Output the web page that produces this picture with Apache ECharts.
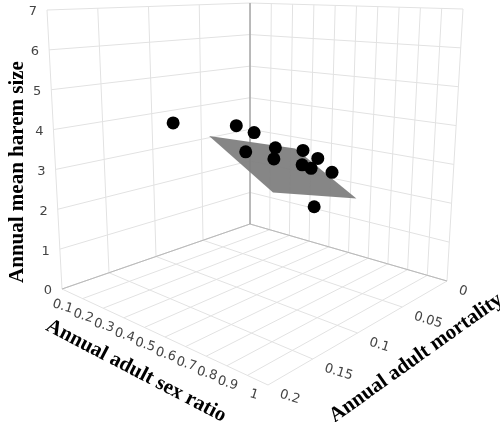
<!DOCTYPE html>
<html><head><meta charset="utf-8">
<script src="https://cdn.jsdelivr.net/npm/echarts@6/dist/echarts.min.js"></script>
<style>html,body{margin:0;padding:0;background:#fff}#c{width:500px;height:422px}</style>
</head><body><div id="c"></div>
<script>
// data: [sex ratio, mortality, harem size]
const sexRatio  = [0.50, 0.474, 0.499, 0.586, 0.555, 0.607, 0.551, 0.582, 0.618, 0.632, 0.643, 0.815];
const mortality = [0.187, 0.116, 0.103, 0.131, 0.093, 0.106, 0.063, 0.054, 0.0785, 0.072, 0.052, 0.109];
const haremSize = [4.78, 4.32, 4.10, 3.90, 3.72, 3.59, 3.44, 3.20, 3.26, 3.14, 2.89, 2.73];
// fitted plane: size = c + p*sexRatio + q*mortality
const planeCoef = {c: 4.38, p: -3.1, q: 9.7};
const planeSexRange = [0.5, 0.8];
const planeMortRange = [0.06, 0.15];
const srTicks = [0,0.1,0.2,0.3,0.4,0.5,0.6,0.7,0.8,0.9,1];
const srLabels = ['','0.1','0.2','0.3','0.4','0.5','0.6','0.7','0.8','0.9','1'];
const mortTicks = [0,0.05,0.1,0.15,0.2];
const mortLabels = ['0','0.05','0.1','0.15','0.2'];
const zTicks = [0,1,2,3,4,5,6,7];

// view: floor corners B(sr0,m0) R(sr1,m0) L(sr0,m.2) F(sr1,m.2), and top (z=7)
const FLOOR = {B:[250,224], R:[447,281], L:[62,289], F:[268,385]};
const TOP   = {B:[250,3],   R:[463,9],   L:[47,10],  F:[270,45]};
function bil(C,u,v){
  const k=i=>C.B[i]*(1-u)*(1-v)+C.R[i]*u*(1-v)+C.L[i]*(1-u)*v+C.F[i]*u*v;
  return [k(0),k(1)];
}
function proj(sr,m,z){
  const u=sr, v=m/0.2, w=z/7;
  const f=bil(FLOOR,u,v), t=bil(TOP,u,v);
  return [f[0]+(t[0]-f[0])*w, f[1]+(t[1]-f[1])*w];
}

const GL='#e2e2e2';
const lines=[];
mortTicks.forEach(m=>lines.push([0,m,0,0,m,7,GL]));
zTicks.forEach(z=>{lines.push([0,0,z,0,0.2,z,GL]); lines.push([0,0,z,1,0,z,GL]);});
srTicks.forEach(s=>lines.push([s,0,0,s,0,7,GL]));
srTicks.forEach(s=>lines.push([s,0,0,s,0.2,0,GL]));
mortTicks.forEach(m=>lines.push([0,m,0,1,m,0,GL]));
lines.push([0,0,0,0,0.2,0,'#b8b8b8']);
lines.push([0,0,0,1,0,0,'#b8b8b8']);
lines.push([0,0,0,0,0,7,'#8a8a8a']);

const labels=[];
zTicks.forEach(z=>labels.push([0,0.2,z,String(z),'z']));
srTicks.forEach((s,i)=>labels.push([s,0.2,0,srLabels[i],'s']));
mortTicks.forEach((m,i)=>labels.push([1,m,0,mortLabels[i],'m']));

const pts=sexRatio.map((s,i)=>[s,mortality[i],haremSize[i]]);
const pz=(s,m)=>planeCoef.c+planeCoef.p*s+planeCoef.q*m;
const [s0,s1]=planeSexRange,[m0,m1]=planeMortRange;
const plane=[[s0,m0],[s1,m0],[s1,m1],[s0,m1]].map(([s,m])=>[s,m,pz(s,m)]);

const chart=echarts.init(document.getElementById('c'));
const C=(api,p)=>api.coord(p);
chart.setOption({
  animation:false,
  grid:{left:0,right:0,top:0,bottom:0},
  xAxis:{type:'value',min:0,max:500,show:false},
  yAxis:{type:'value',min:0,max:422,inverse:true,show:false},
  series:[
    {type:'custom',data:lines,silent:true,renderItem:(p,api)=>{
      const d=lines[p.dataIndex];const a=C(api,proj(d[0],d[1],d[2])),b=C(api,proj(d[3],d[4],d[5]));
      return {type:'line',shape:{x1:a[0],y1:a[1],x2:b[0],y2:b[1]},style:{stroke:d[6],lineWidth:1}};
    }},
    {type:'custom',data:labels,silent:true,renderItem:(p,api)=>{
      const d=labels[p.dataIndex];const a=C(api,proj(d[0],d[1],d[2]));
      let x=a[0],y=a[1],align='right',rot=0;
      if(d[4]==='z'){x-=10;y+=2;}
      else if(d[4]==='s'){x-=10;y+=11;rot=-0.3;}
      else {x+=12;y+=9;align='left';rot=-0.3;}
      return {type:'text',x:x,y:y,rotation:rot,style:{text:d[3],fill:'#444',font:'13px "DejaVu Sans"',align:align,verticalAlign:'middle'}};
    }},
    {type:'custom',data:[0],silent:true,renderItem:(p,api)=>{
      return {type:'polygon',shape:{points:plane.map(q=>C(api,proj(q[0],q[1],q[2])))},style:{fill:'#7f7f7f',opacity:0.95}};
    }},
    {type:'custom',data:pts,silent:true,renderItem:(p,api)=>{
      const d=pts[p.dataIndex];const a=C(api,proj(d[0],d[1],d[2]));
      return {type:'circle',shape:{cx:a[0],cy:a[1],r:6.5},style:{fill:'#000'}};
    }}
  ],
  graphic:[
    {type:'text',x:18,y:172,rotation:Math.PI/2,style:{text:'Annual mean harem size',font:'bold 21px "Liberation Serif"',fill:'#000',align:'center',verticalAlign:'middle'}},
    {type:'text',x:136,y:371,rotation:-0.48,style:{text:'Annual adult sex ratio',font:'bold 21px "Liberation Serif"',fill:'#000',align:'center',verticalAlign:'middle'}},
    {type:'text',x:416,y:358,rotation:0.62,style:{text:'Annual adult mortality',font:'bold 21px "Liberation Serif"',fill:'#000',align:'center',verticalAlign:'middle'}}
  ]
});
</script></body></html>
